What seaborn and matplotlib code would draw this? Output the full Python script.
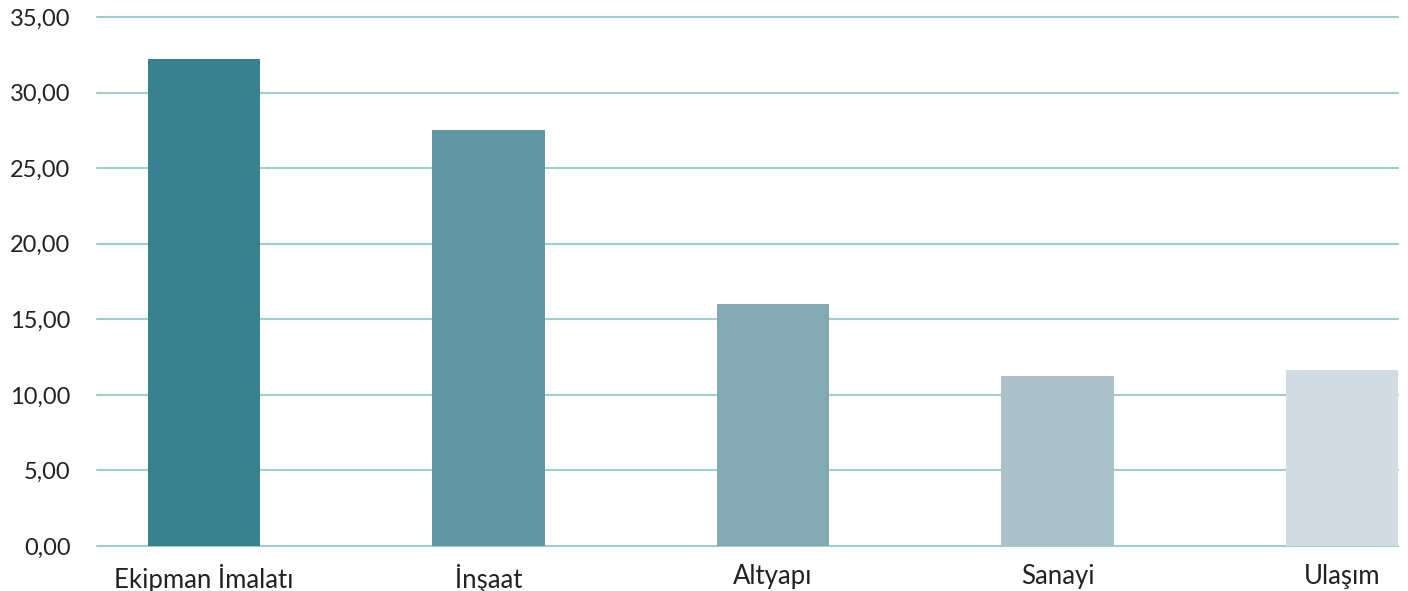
import matplotlib
matplotlib.use("Agg")
import matplotlib.pyplot as plt
import seaborn as sns
import pandas as pd
from matplotlib.ticker import FuncFormatter

# Sector values
categories = ["Ekipman İmalatı", "İnşaat", "Altyapı", "Sanayi", "Ulaşım"]
values = [32.2, 27.5, 16.0, 11.25, 11.65]
colors = ["#37828E", "#6195A2", "#84A9B2", "#A9C1C7", "#D0DCE1"]
y_ticks = [0, 5, 10, 15, 20, 25, 30, 35]

sns.set_theme(style="white")
plt.rcParams["font.family"] = ["Lato", "DejaVu Sans"]

df = pd.DataFrame({"sector": categories, "value": values})

fig = plt.figure(figsize=(14.08, 5.91), dpi=100)
ax = fig.add_axes([97 / 1408, (591 - 546) / 591, (1398 - 97) / 1408, (546 - 17) / 591])

sns.barplot(data=df, x="sector", y="value", hue="sector", palette=colors,
            order=categories, hue_order=categories, width=0.394,
            saturation=1, legend=False, ax=ax, zorder=3, linewidth=0)

ax.set_ylim(0, 35)
ax.set_xlim(-0.376, 4.197)
ax.set_yticks(y_ticks)
ax.yaxis.set_major_formatter(FuncFormatter(lambda v, _: f"{v:.2f}".replace(".", ",")))
ax.grid(axis="y", color="#9ECFCB", linewidth=1.5, zorder=0)
ax.grid(axis="x", visible=False)
for gl in ax.get_ygridlines():
    gl.set_clip_on(False)
ax.set_axisbelow(True)
for s in ax.spines.values():
    s.set_visible(False)

ax.set_xlabel("")
ax.set_ylabel("")
ax.tick_params(axis="y", length=0, pad=19, labelsize=17, labelcolor="#222222")
ax.tick_params(axis="x", length=0, pad=13, labelsize=18.5, labelcolor="#222222")

fig.savefig("out.png", dpi=100)
